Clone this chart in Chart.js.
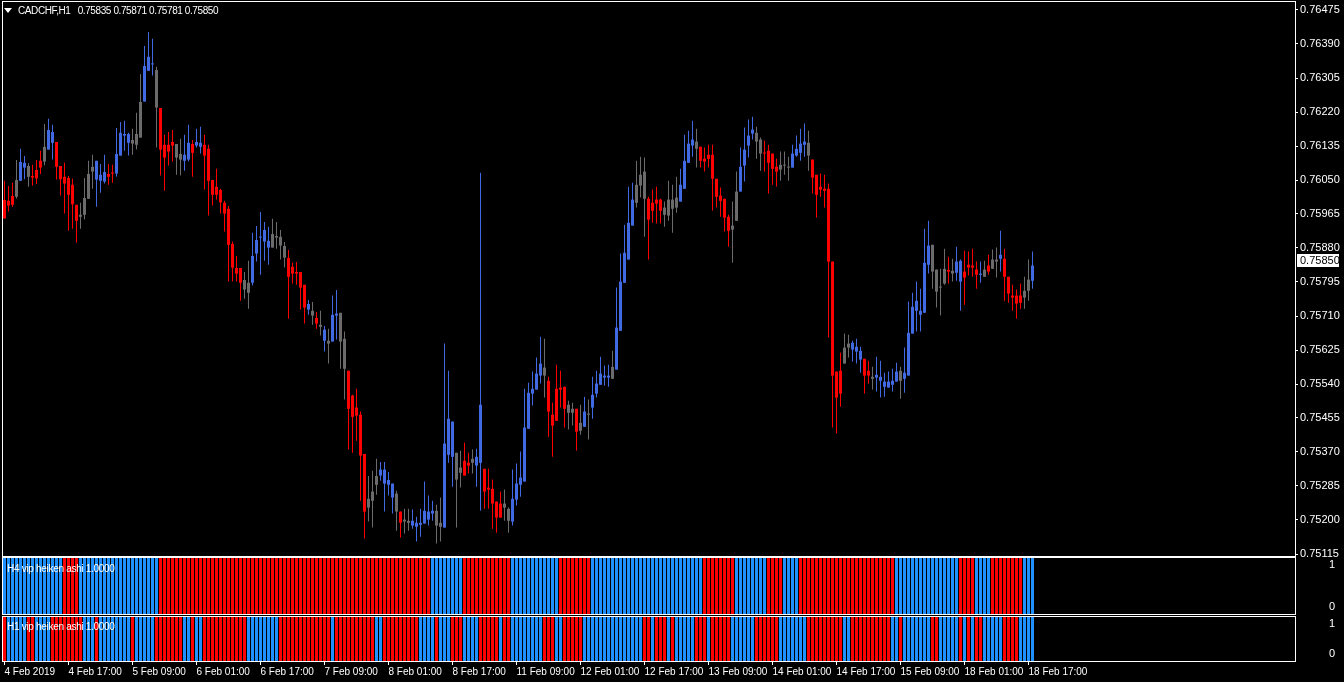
<!DOCTYPE html>
<html>
<head>
<meta charset="utf-8">
<script src="https://cdn.jsdelivr.net/npm/chart.js@4.4.1/dist/chart.umd.min.js"></script>
<style>
  html, body { margin: 0; padding: 0; background: #000; }
  #wrap { position: relative; width: 1344px; height: 682px; background: #000; overflow: hidden; }
  canvas { position: absolute; left: 0; }
  .lbl { position: absolute; color: #fff; font: 10px "Liberation Sans", Arial, sans-serif; line-height: 13px; white-space: pre; letter-spacing: -0.3px; }
  #title { letter-spacing: -0.4px; }
  .tri { display: inline-block; width: 0; height: 0; border-left: 4px solid transparent; border-right: 4px solid transparent; border-top: 5px solid #fff; margin: 0 6px 1px 0; }
</style>
</head>
<body>
<div id="wrap">
  <canvas id="main" width="1344" height="557" style="top:0"></canvas>
  <canvas id="h4" width="1344" height="58" style="top:557px"></canvas>
  <canvas id="h1" width="1344" height="67" style="top:615px"></canvas>
  <div class="lbl" id="title" style="left:4px;top:4px"></div>
  <div class="lbl" id="h4name" style="left:7px;top:562px"></div>
  <div class="lbl" id="h1name" style="left:7px;top:620px"></div>
</div>
<script>
// CADCHF H1, 4 Feb 2019 01:00 .. 18 Feb 18:00 (heiken ashi bodies, real wicks)
const symbol = 'CADCHF,H1';
const lastQuote = [0.75835, 0.75871, 0.75781, 0.75850];

const open = [
  0.76000,0.75998,0.76010,0.76008,0.76048,0.76081,0.76085,0.76060,0.76075,0.76098,0.76096,0.76126,0.76143,0.76145,0.76085,0.76058,
  0.76055,0.76038,0.75988,0.75958,0.75963,0.76003,0.76071,0.76051,0.76048,0.76046,0.76065,0.76068,0.76066,0.76111,0.76161,0.76143,
  0.76150,0.76138,0.76156,0.76246,0.76323,0.76339,0.76325,0.76230,0.76138,0.76138,0.76145,0.76140,0.76115,0.76098,0.76101,0.76140,
  0.76136,0.76133,0.76138,0.76128,0.76050,0.76033,0.76025,0.75993,0.75978,0.75890,0.75830,0.75830,0.75776,0.75793,0.75793,0.75866,
  0.75906,0.75896,0.75881,0.75881,0.75906,0.75908,0.75885,0.75855,0.75833,0.75820,0.75820,0.75788,0.75726,0.75723,0.75705,0.75688,
  0.75648,0.75648,0.75646,0.75711,0.75718,0.75653,0.75573,0.75511,0.75481,0.75463,0.75365,0.75231,0.75248,0.75288,0.75311,0.75291,
  0.75288,0.75256,0.75266,0.75221,0.75196,0.75193,0.75186,0.75183,0.75188,0.75191,0.75201,0.75216,0.75223,0.75183,0.75181,0.75363,
  0.75358,0.75368,0.75318,0.75348,0.75343,0.75343,0.75336,0.75343,0.75328,0.75281,0.75278,0.75246,0.75241,0.75231,0.75228,0.75196,
  0.75251,0.75288,0.75296,0.75428,0.75516,0.75526,0.75561,0.75561,0.75548,0.75463,0.75528,0.75531,0.75533,0.75468,0.75478,0.75478,
  0.75423,0.75433,0.75463,0.75481,0.75516,0.75538,0.75556,0.75556,0.75553,0.75576,0.75673,0.75793,0.75851,0.75936,0.75993,0.76036,
  0.76071,0.76003,0.75993,0.76001,0.76001,0.75981,0.75961,0.76001,0.75981,0.75996,0.76028,0.76093,0.76136,0.76146,0.76133,0.76103,
  0.76113,0.76113,0.76053,0.76011,0.76003,0.75958,0.75926,0.75948,0.76021,0.76086,0.76136,0.76166,0.76168,0.76151,0.76118,0.76123,
  0.76116,0.76083,0.76076,0.76086,0.76081,0.76081,0.76111,0.76118,0.76138,0.76143,0.76101,0.76063,0.76033,0.76028,0.76028,0.75846,
  0.75571,0.75573,0.75591,0.75631,0.75626,0.75621,0.75601,0.75603,0.75573,0.75553,0.75556,0.75548,0.75533,0.75531,0.75538,0.75546,
  0.75548,0.75553,0.75561,0.75666,0.75723,0.75713,0.75718,0.75838,0.75888,0.75826,0.75783,0.75791,0.75825,0.75823,0.75818,0.75796,
  0.75821,0.75838,0.75836,0.75826,0.75813,0.75808,0.75836,0.75828,0.75846,0.75853,0.75853,0.75808,0.75761,0.75761,0.75761,0.75756,
  0.75773,0.75798
];
const high = [
  0.76048,0.76035,0.76043,0.76100,0.76128,0.76110,0.76092,0.76088,0.76100,0.76123,0.76190,0.76203,0.76188,0.76145,0.76085,0.76093,
  0.76060,0.76053,0.75988,0.75993,0.76055,0.76098,0.76113,0.76098,0.76090,0.76113,0.76090,0.76088,0.76180,0.76195,0.76198,0.76168,
  0.76178,0.76218,0.76315,0.76385,0.76420,0.76403,0.76333,0.76230,0.76163,0.76170,0.76175,0.76140,0.76153,0.76163,0.76188,0.76150,
  0.76178,0.76183,0.76163,0.76138,0.76050,0.76078,0.76028,0.75998,0.75985,0.75896,0.75860,0.75830,0.75820,0.75848,0.75918,0.75935,
  0.75970,0.75945,0.75933,0.75953,0.75945,0.75925,0.75895,0.75875,0.75843,0.75845,0.75820,0.75788,0.75750,0.75745,0.75720,0.75723,
  0.75685,0.75678,0.75761,0.75775,0.75718,0.75671,0.75573,0.75513,0.75528,0.75471,0.75365,0.75310,0.75323,0.75353,0.75345,0.75345,
  0.75320,0.75291,0.75273,0.75221,0.75228,0.75228,0.75226,0.75208,0.75228,0.75296,0.75261,0.75248,0.75238,0.75256,0.75641,0.75573,
  0.75446,0.75368,0.75373,0.75393,0.75368,0.75376,0.75378,0.76068,0.75328,0.75328,0.75301,0.75246,0.75271,0.75276,0.75231,0.75326,
  0.75341,0.75371,0.75528,0.75543,0.75571,0.75606,0.75658,0.75653,0.75558,0.75493,0.75588,0.75573,0.75533,0.75498,0.75493,0.75478,
  0.75488,0.75508,0.75501,0.75558,0.75573,0.75608,0.75586,0.75588,0.75623,0.75781,0.75866,0.75938,0.76033,0.76043,0.76098,0.76108,
  0.76106,0.76008,0.76026,0.76033,0.76003,0.75996,0.76048,0.76038,0.76058,0.76078,0.76163,0.76173,0.76198,0.76178,0.76133,0.76131,
  0.76138,0.76138,0.76053,0.76031,0.76003,0.75963,0.75996,0.76071,0.76131,0.76181,0.76201,0.76208,0.76183,0.76156,0.76148,0.76138,
  0.76116,0.76103,0.76121,0.76121,0.76108,0.76138,0.76161,0.76178,0.76191,0.76173,0.76101,0.76063,0.76066,0.76063,0.76041,0.75846,
  0.75571,0.75618,0.75666,0.75663,0.75648,0.75653,0.75633,0.75603,0.75598,0.75583,0.75608,0.75598,0.75568,0.75571,0.75578,0.75593,
  0.75583,0.75631,0.75746,0.75768,0.75796,0.75778,0.75928,0.75948,0.75888,0.75826,0.75828,0.75878,0.75858,0.75853,0.75883,0.75851,
  0.75873,0.75871,0.75878,0.75846,0.75846,0.75848,0.75863,0.75876,0.75881,0.75923,0.75878,0.75808,0.75788,0.75776,0.75791,0.75808,
  0.75851,0.75871
];
const low = [
  0.75954,0.75971,0.75983,0.76004,0.76048,0.76052,0.76033,0.76036,0.76040,0.76065,0.76086,0.76126,0.76101,0.76051,0.76011,0.75966,
  0.75923,0.75928,0.75893,0.75928,0.75951,0.76003,0.76028,0.75983,0.76018,0.76041,0.76038,0.76043,0.76058,0.76111,0.76123,0.76111,
  0.76113,0.76126,0.76156,0.76246,0.76323,0.76311,0.76131,0.76061,0.76023,0.76086,0.76096,0.76063,0.76061,0.76073,0.76096,0.76058,
  0.76131,0.76116,0.76026,0.75961,0.75986,0.76001,0.75966,0.75921,0.75796,0.75796,0.75796,0.75748,0.75753,0.75728,0.75786,0.75846,
  0.75813,0.75848,0.75838,0.75881,0.75878,0.75851,0.75831,0.75703,0.75791,0.75788,0.75726,0.75691,0.75713,0.75688,0.75678,0.75661,
  0.75621,0.75591,0.75646,0.75651,0.75578,0.75501,0.75376,0.75368,0.75398,0.75248,0.75154,0.75196,0.75181,0.75263,0.75298,0.75221,
  0.75261,0.75216,0.75173,0.75156,0.75166,0.75173,0.75178,0.75146,0.75158,0.75191,0.75186,0.75198,0.75141,0.75146,0.75181,0.75343,
  0.75283,0.75181,0.75281,0.75311,0.75316,0.75316,0.75283,0.75223,0.75228,0.75228,0.75178,0.75168,0.75206,0.75198,0.75168,0.75186,
  0.75236,0.75258,0.75296,0.75428,0.75486,0.75526,0.75541,0.75506,0.75408,0.75358,0.75448,0.75481,0.75431,0.75426,0.75436,0.75373,
  0.75413,0.75433,0.75401,0.75453,0.75506,0.75538,0.75536,0.75533,0.75553,0.75576,0.75673,0.75793,0.75851,0.75936,0.75981,0.76006,
  0.75908,0.75851,0.75943,0.75941,0.75941,0.75933,0.75948,0.75918,0.75968,0.75996,0.76028,0.76093,0.76108,0.76081,0.76081,0.76071,
  0.76081,0.75973,0.75981,0.75958,0.75921,0.75883,0.75843,0.75948,0.76021,0.76046,0.76106,0.76151,0.76103,0.76073,0.76071,0.76016,
  0.76038,0.76033,0.76048,0.76063,0.76048,0.76081,0.76108,0.76098,0.76108,0.76073,0.76016,0.75956,0.76008,0.75981,0.75656,0.75431,
  0.75416,0.75483,0.75591,0.75606,0.75596,0.75591,0.75568,0.75516,0.75541,0.75526,0.75521,0.75506,0.75508,0.75531,0.75521,0.75546,
  0.75503,0.75518,0.75561,0.75666,0.75671,0.75671,0.75718,0.75816,0.75778,0.75731,0.75711,0.75788,0.75791,0.75796,0.75798,0.75723,
  0.75738,0.75811,0.75808,0.75778,0.75793,0.75808,0.75813,0.75828,0.75806,0.75821,0.75748,0.75743,0.75723,0.75703,0.75728,0.75728,
  0.75748,0.75778
];
const close = [
  0.75954,0.75986,0.75988,0.76050,0.76095,0.76093,0.76058,0.76056,0.76054,0.76081,0.76133,0.76175,0.76170,0.76083,0.76052,0.76041,
  0.76013,0.75989,0.75948,0.75963,0.76005,0.76065,0.76083,0.76098,0.76063,0.76070,0.76058,0.76066,0.76115,0.76168,0.76165,0.76165,
  0.76141,0.76165,0.76245,0.76335,0.76358,0.76340,0.76231,0.76126,0.76106,0.76121,0.76136,0.76106,0.76101,0.76113,0.76143,0.76118,
  0.76145,0.76143,0.76111,0.76048,0.76013,0.76013,0.75994,0.75966,0.75888,0.75831,0.75816,0.75793,0.75800,0.75768,0.75860,0.75900,
  0.75908,0.75925,0.75898,0.75915,0.75910,0.75886,0.75856,0.75808,0.75816,0.75816,0.75781,0.75731,0.75740,0.75711,0.75691,0.75683,
  0.75676,0.75641,0.75713,0.75716,0.75646,0.75578,0.75478,0.75458,0.75461,0.75361,0.75221,0.75253,0.75271,0.75310,0.75326,0.75326,
  0.75300,0.75291,0.75221,0.75193,0.75201,0.75198,0.75198,0.75193,0.75193,0.75223,0.75221,0.75223,0.75186,0.75193,0.75391,0.75453,
  0.75446,0.75301,0.75331,0.75311,0.75336,0.75353,0.75358,0.75488,0.75271,0.75276,0.75241,0.75206,0.75206,0.75241,0.75198,0.75253,
  0.75291,0.75306,0.75431,0.75518,0.75528,0.75566,0.75591,0.75581,0.75471,0.75436,0.75448,0.75526,0.75478,0.75488,0.75468,0.75421,
  0.75443,0.75471,0.75466,0.75513,0.75541,0.75566,0.75561,0.75561,0.75583,0.75681,0.75796,0.75868,0.75943,0.76001,0.76038,0.76063,
  0.76003,0.75951,0.75973,0.75991,0.75973,0.75963,0.76001,0.75978,0.76006,0.76038,0.76098,0.76141,0.76151,0.76128,0.76098,0.76096,
  0.76103,0.76053,0.76008,0.75998,0.75956,0.75923,0.75936,0.76021,0.76083,0.76126,0.76161,0.76176,0.76146,0.76116,0.76116,0.76093,
  0.76078,0.76071,0.76088,0.76088,0.76083,0.76116,0.76128,0.76141,0.76146,0.76111,0.76056,0.76013,0.76026,0.76023,0.75846,0.75561,
  0.75506,0.75516,0.75631,0.75641,0.75643,0.75633,0.75623,0.75561,0.75561,0.75558,0.75563,0.75558,0.75546,0.75546,0.75548,0.75571,
  0.75573,0.75568,0.75668,0.75733,0.75748,0.75723,0.75843,0.75886,0.75821,0.75771,0.75781,0.75828,0.75821,0.75816,0.75846,0.75848,
  0.75806,0.75831,0.75831,0.75813,0.75816,0.75826,0.75821,0.75851,0.75851,0.75863,0.75808,0.75766,0.75756,0.75741,0.75743,0.75773,
  0.75801,0.75836
];
// candle paint: b = blue, r = red, g = grey (one letter per bar, 16 per row)
const candleTone = [
  'rrrgbbgrrrgbbrrr','rrrggggbbbrrbbbb','gggbbbgrrrrggbbr','bbrrrrrrrrrrggbb',
  'bbbggggrrrrrbgrg','bgbbggrrrrrgggbb','bbgrggbbbbbbggbb','bggrrgbbrrrrrggb',
  'bbbbbbbgrrrrrggr','gbgbbbbbgbbbbbgg','grrrrggggbbbbgrr','rrrrrrggbbbbggrr',
  'rrgggbbbbgrrrrrr','rrggbbbrrgbbbbbb','gbbbbbbbggggrgbb','rrrrbgrggbrrrrrg','gb'
].join('').split('');
// vip heiken ashi trend per bar, H4 and H1 (b = up, r = down)
const h4Trend = [
  'bbb','bbbb','bbbb','bbbb','rrrr','bbbb','bbbb','bbbb','bbbb','bbbb',
  'rrrr','rrrr','rrrr','rrrr','rrrr','rrrr','rrrr','rrrr','rrrr','rrrr','rrrr','rrrr','rrrr','rrrr','rrrr','rrrr','rrrr',
  'bbbb','bbbb','rrrr','rrrr','rrrr','bbbb','bbbb','bbbb','rrrr','rrrr',
  'bbbb','bbbb','bbbb','bbbb','bbbb','bbbb','bbbb','rrrr','rrrr','bbbb','bbbb','rrrr','bbbb',
  'rrrr','rrrr','rrrr','rrrr','rrrr','rrrr','bbbb','bbbb','bbbb','bbbb','rrrr','bbbb','rrrr','rrrr','bbb'
].join('').split('');
const h1Trend = [
  'rbbbbbrrbbbbrrrr','rrrrbbbrbbbbbbbb','rbbbbbrrrrrrrbbr','bbrrrrrrrrrrrbbb',
  'bbbbbrrrrrrrrrrr','rrbrrrrrrrrrrbbr','rrrrrrrrbbbbrbbb','rrrbbbbrrrrrbrrb',
  'bbbbbbbrrrbbrrrr','rbbbbbbbbbbbbbbb','rrbrrrbrbbbbbrrr','brrrrrbbbbbbrrrr',
  'rrbbbbbbbrrrrrrr','rrbbrrrrrrrrrrbb','rbbbbbbbrrbbbbbr','brbrrbbbbbrrrrbb','bb'
].join('').split('');

const timeLabels = ['4 Feb 2019','4 Feb 17:00','5 Feb 09:00','6 Feb 01:00','6 Feb 17:00','7 Feb 09:00',
  '8 Feb 01:00','8 Feb 17:00','11 Feb 09:00','12 Feb 01:00','12 Feb 17:00','13 Feb 09:00',
  '14 Feb 01:00','14 Feb 17:00','15 Feb 09:00','18 Feb 01:00','18 Feb 17:00'];
const priceTicks = [0.75115,0.75200,0.75285,0.75370,0.75455,0.75540,0.75625,0.75710,0.75795,
  0.75880,0.75965,0.76050,0.76135,0.76220,0.76305,0.76390,0.76475];

const tone = { b: '#4169e1', r: '#ff0000', g: '#6b6b6b' };
const UP = '#1e90ff', DOWN = '#ff0000';
const FONT = '"Liberation Sans", Arial, sans-serif';

Chart.defaults.font.family = FONT;
Chart.defaults.font.size = 11;
Chart.defaults.color = '#fff';

document.getElementById('title').innerHTML = '<span class="tri"></span>' + symbol + '   ' + lastQuote.map(v => v.toFixed(5)).join(' ');
document.getElementById('h4name').textContent = 'H4 vip heiken ashi 1.0000';
document.getElementById('h1name').textContent = 'H1 vip heiken ashi 1.0000';

// 4px per bar, bar 0 centred at x=4.5
const xMin = -0.375, xMax = 322.625;
const AXIS_W = 49;

const framePlugin = {
  id: 'frame',
  afterDraw(chart) {
    const a = chart.chartArea, c = chart.ctx;
    c.save();
    c.strokeStyle = '#fff';
    c.lineWidth = 1;
    c.strokeRect(a.left - 0.5, a.top - 0.5, a.right - a.left + 1, a.bottom - a.top + 1);
    c.restore();
  }
};

const lastPricePlugin = {
  id: 'lastPrice',
  afterDraw(chart) {
    const c = chart.ctx;
    const y = Math.round(chart.scales.y.getPixelForValue(lastQuote[3]));
    c.save();
    c.fillStyle = '#fff';
    c.fillRect(chart.chartArea.right + 2, y - 6, 42, 13);
    c.fillStyle = '#000';
    c.font = '11px ' + FONT;
    c.textBaseline = 'middle';
    c.fillText(lastQuote[3].toFixed(5), chart.chartArea.right + 5, y + 1);
    c.restore();
  }
};

const common = {
  responsive: false,
  animation: false,
  devicePixelRatio: 1,
  events: [],
  plugins: { legend: { display: false }, tooltip: { enabled: false } }
};

function noPad(s) { s.paddingTop = 0; s.paddingBottom = 0; s.paddingLeft = 0; s.paddingRight = 0; }

const idx = open.map((_, i) => i);
const candleFill = candleTone.map(t => tone[t]);

new Chart(document.getElementById('main'), {
  type: 'bar',
  data: {
    datasets: [
      { data: idx.map(i => ({ x: i, y: [low[i], high[i]] })), backgroundColor: candleFill,
        barThickness: 1, grouped: false, inflateAmount: 0, borderWidth: 0 },
      { data: idx.map(i => ({ x: i, y: [open[i], close[i]] })), backgroundColor: candleFill,
        barThickness: 3, grouped: false, inflateAmount: 0, borderWidth: 0, minBarLength: 1 }
    ]
  },
  options: {
    ...common,
    layout: { autoPadding: false, padding: { left: 3, top: 2, right: 0, bottom: 1 } },
    scales: {
      x: { type: 'linear', display: false, offset: false, min: xMin, max: xMax },
      y: {
        position: 'right', min: 0.7511, max: 0.76495,
        afterBuildTicks: s => { s.ticks = priceTicks.map(v => ({ value: v })); },
        afterFit: s => { s.width = AXIS_W; noPad(s); },
        ticks: { autoSkip: false, padding: 2, color: '#fff', callback: v => v.toFixed(5) },
        grid: { drawOnChartArea: false, tickLength: 3, color: '#fff' },
        border: { display: false }
      }
    }
  },
  plugins: [framePlugin, lastPricePlugin]
});

function pane(id, trend, padding, showTime) {
  return new Chart(document.getElementById(id), {
    type: 'bar',
    data: {
      datasets: [
        { data: idx.map(i => ({ x: i, y: trend[i] === 'b' ? 1 : null })), backgroundColor: UP,
          barThickness: 3, grouped: false, inflateAmount: 0, borderWidth: 0 },
        { data: idx.map(i => ({ x: i, y: trend[i] === 'r' ? 1 : null })), backgroundColor: DOWN,
          barThickness: 3, grouped: false, inflateAmount: 0, borderWidth: 0 }
      ]
    },
    options: {
      ...common,
      layout: { autoPadding: false, padding: padding },
      scales: {
        x: {
          type: 'linear', display: showTime, offset: false, min: xMin, max: xMax,
          afterBuildTicks: s => { s.ticks = timeLabels.map((_, k) => ({ value: k * 16 })); },
          afterFit: s => { if (showTime) s.height = 21; noPad(s); },
          ticks: { autoSkip: false, maxRotation: 0, align: 'start', padding: 1, color: '#fff',
                   font: { size: 10 }, callback: (v, i) => timeLabels[i] },
          grid: { drawOnChartArea: false, offset: false, tickLength: 4, color: '#fff' },
          border: { display: false }
        },
        y: {
          position: 'right', min: 0, max: 1,
          afterBuildTicks: s => { s.ticks = [{ value: 0 }, { value: 1 }]; },
          afterFit: s => { s.width = AXIS_W; noPad(s); },
          ticks: { autoSkip: false, padding: 26, color: '#fff', font: { lineHeight: 1.3 },
                   callback: v => (v === 1 ? ['', '1'] : ['0', '']) },
          grid: { display: false },
          border: { display: false }
        }
      }
    },
    plugins: [framePlugin]
  });
}

pane('h4', h4Trend, { left: 3, top: 1, right: 0, bottom: 1 }, false);
pane('h1', h1Trend, { left: 3, top: 2, right: 0, bottom: 0 }, true);
</script>
</body>
</html>
